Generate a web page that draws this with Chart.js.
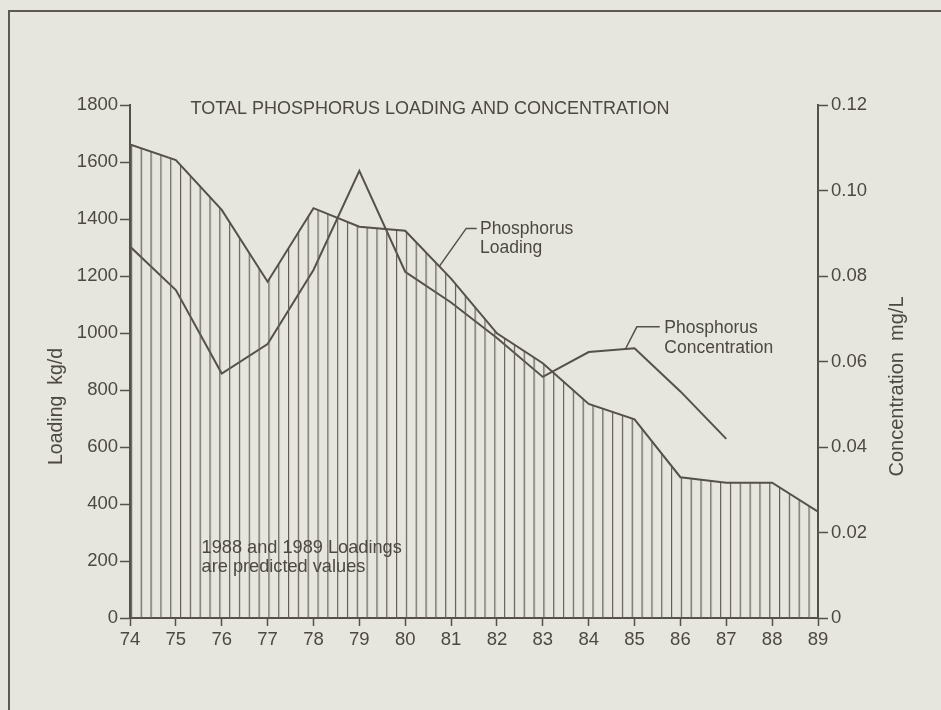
<!DOCTYPE html>
<html><head><meta charset="utf-8">
<script src="https://cdn.jsdelivr.net/npm/chart.js@4/dist/chart.umd.min.js"></script>
<style>
html,body{margin:0;padding:0;background:#e6e6de;}
#wrap{position:relative;width:941px;height:710px;overflow:hidden;background:#e6e6de;}
#frame{position:absolute;left:8px;top:10px;width:980px;height:760px;border-left:2px solid #5e5953;border-top:2px solid #5e5953;}
canvas{position:absolute;left:0;top:0;}
</style></head><body>
<div id="wrap"><div id="frame"></div><canvas id="c" width="941" height="710" style="width:941px;height:710px"></canvas></div>
<script>
// ---- data ----
const years = [74,75,76,77,78,79,80,81,82,83,84,85,86,87,88,89];
const loading = [1662,1607,1432,1180,1438,1373,1359,1191,999,894,751,697,494,475,475,373];
const concentration = [0.0869,0.0767,0.0572,0.0641,0.0814,0.1046,0.0810,0.0738,0.0655,0.0564,0.0622,0.0631,0.0530,0.0419,null,null];
const loadingTicks = [0,200,400,600,800,1000,1200,1400,1600,1800];
const concTicks = [0,0.02,0.04,0.06,0.08,0.10,0.12];
const concTickLabels = ['0','0.02','0.04','0.06','0.08','0.10','0.12'];
const chartTitle = 'TOTAL PHOSPHORUS LOADING AND CONCENTRATION';
const loadingLabel = ['Phosphorus','Loading'];
const concLabel = ['Phosphorus','Concentration'];
const noteLines = ['1988 and 1989 Loadings','are predicted values'];
const leftTitle = 'Loading  kg/d';
const rightTitle = 'Concentration  mg/L';

// ---- styles ----
const LINE = '#55504a';
const TEXT = '#4d4843';
const FONT = '"Liberation Sans", Arial, sans-serif';

const canvas = document.getElementById('c');
const ctx = canvas.getContext('2d');

const pc = document.createElement('canvas');
pc.width = 10; pc.height = 10;
const pg = pc.getContext('2d');
pg.fillStyle = '#625d57';
pg.fillRect(0,0,1.2,10);
const hatch = ctx.createPattern(pc,'repeat');
hatch.setTransform(new DOMMatrix([0.982,0,0,1,3.2,0]));

const annot = {
  id:'annot',
  afterDraw(chart){
    const c = chart.ctx, x = chart.scales.x, y = chart.scales.y, y1 = chart.scales.y1, a = chart.chartArea;
    c.save();
    c.fillStyle = TEXT; c.strokeStyle = LINE; c.lineWidth = 1.5;
    c.textBaseline = 'middle'; c.textAlign = 'left';
    c.font = '18px ' + FONT;
    c.fillText(chartTitle, x.getPixelForValue(75.32), y.getPixelForValue(1785));
    c.font = '17.5px ' + FONT;
    // loading leader
    c.beginPath();
    c.moveTo(x.getPixelForValue(80.74), y.getPixelForValue(1233));
    c.lineTo(x.getPixelForValue(81.33), y.getPixelForValue(1367));
    c.lineTo(x.getPixelForValue(81.56), y.getPixelForValue(1367));
    c.stroke();
    c.fillText(loadingLabel[0], x.getPixelForValue(81.63), y.getPixelForValue(1364));
    c.fillText(loadingLabel[1], x.getPixelForValue(81.63), y.getPixelForValue(1297));
    // concentration leader
    c.beginPath();
    c.moveTo(x.getPixelForValue(84.81), y1.getPixelForValue(0.0631));
    c.lineTo(x.getPixelForValue(85.05), y1.getPixelForValue(0.0681));
    c.lineTo(x.getPixelForValue(85.55), y1.getPixelForValue(0.0681));
    c.stroke();
    c.fillText(concLabel[0], x.getPixelForValue(85.65), y1.getPixelForValue(0.0678));
    c.fillText(concLabel[1], x.getPixelForValue(85.65), y1.getPixelForValue(0.0631));
    // note
    c.font = '18.2px ' + FONT;
    c.fillText(noteLines[0], x.getPixelForValue(75.56), y.getPixelForValue(245));
    c.fillText(noteLines[1], x.getPixelForValue(75.56), y.getPixelForValue(180));
    // axis titles
    const mid = (a.top + a.bottom)/2;
    c.textAlign = 'center';
    c.font = '19.5px ' + FONT;
    c.save(); c.translate(a.left - 73, mid + 45); c.rotate(-Math.PI/2); c.fillText(leftTitle,0,0); c.restore();
    c.font = '20px ' + FONT;
    c.save(); c.translate(a.right + 79, mid + 25); c.rotate(-Math.PI/2); c.fillText(rightTitle,0,0); c.restore();
    c.restore();
  }
};

const tickFont = {family: FONT, size: 18.5};

new Chart(ctx, {
  type: 'line',
  data: {
    datasets: [
      {
        label: 'Phosphorus Loading',
        data: years.map((yr,i)=>({x:yr, y:loading[i]})),
        yAxisID: 'y',
        borderColor: LINE, borderWidth: 2,
        backgroundColor: hatch,
        fill: 'origin',
        pointRadius: 0, tension: 0
      },
      {
        label: 'Phosphorus Concentration',
        data: years.map((yr,i)=>({x:yr, y:concentration[i]})),
        yAxisID: 'y1',
        borderColor: LINE, borderWidth: 2,
        fill: false, spanGaps: false,
        pointRadius: 0, tension: 0
      }
    ]
  },
  options: {
    responsive: false,
    animation: false,
    devicePixelRatio: 1,
    layout: {padding: {top: 105, left: 0, right: 0, bottom: 0}},
    plugins: {legend: {display:false}, tooltip: {enabled:false}, title: {display:false}},
    scales: {
      x: {
        type: 'linear', min: 74, max: 89,
        afterBuildTicks: s => { s.ticks = years.map(v=>({value:v})); },
        afterFit: s => { s.height = 92; },
        border: {display:true, color: LINE, width: 2},
        grid: {display:true, drawOnChartArea:false, drawTicks:true, tickLength:8, tickColor: LINE, tickWidth:1.5},
        ticks: {color: TEXT, font: tickFont, padding: 3, maxRotation:0, autoSkip:false, callback: v => String(v)}
      },
      y: {
        position: 'left', min: 0, max: 1800,
        afterBuildTicks: s => { s.ticks = loadingTicks.map(v=>({value:v})); },
        afterFit: s => { s.width = 130; },
        border: {display:true, color: LINE, width: 2},
        grid: {display:true, drawOnChartArea:false, drawTicks:true, tickLength:10, tickColor: LINE, tickWidth:1.5},
        ticks: {color: TEXT, font: tickFont, padding: 2, callback: v => String(v)}
      },
      y1: {
        position: 'right', min: 0, max: 0.12,
        afterBuildTicks: s => { s.ticks = concTicks.map(v=>({value:v})); },
        afterFit: s => { s.width = 123; },
        border: {display:true, color: LINE, width: 2},
        grid: {display:true, drawOnChartArea:false, drawTicks:true, tickLength:10, tickColor: LINE, tickWidth:1.5},
        ticks: {color: TEXT, font: tickFont, padding: 3, callback: (v,i) => concTickLabels[i]}
      }
    }
  },
  plugins: [annot]
});
</script>
</body></html>
